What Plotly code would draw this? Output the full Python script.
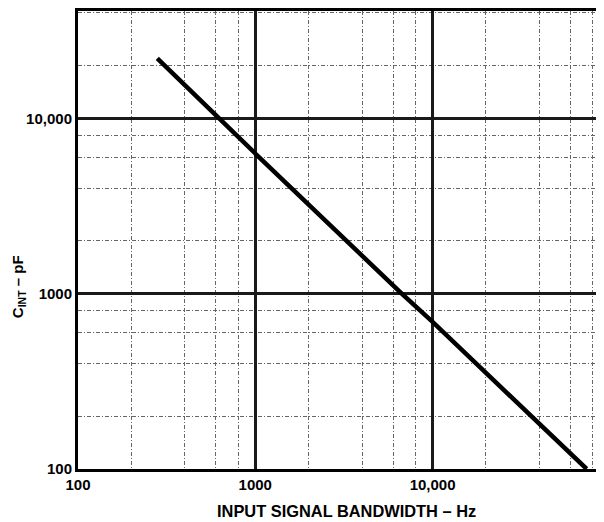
import plotly.graph_objects as go

# Integrating capacitor vs. input signal bandwidth
bandwidth_hz = [280, 1000, 6700, 10000, 74000]
cint_pf = [22000, 6300, 1000, 690, 100]

# Axis ticks
x_major = [100, 1000, 10000]
x_major_text = ["100", "1000", "10,000"]
x_minor = [200, 400, 600, 800, 2000, 4000, 6000, 8000, 20000, 40000, 60000, 80000]
y_major = [100, 1000, 10000]
y_major_text = ["100", "1000", "10,000"]
y_minor = [200, 400, 600, 800, 2000, 4000, 6000, 8000, 20000, 40000]

FONT = "Liberation Sans"

fig = go.Figure()

fig.add_trace(go.Scatter(
    x=bandwidth_hz,
    y=cint_pf,
    mode="lines",
    line=dict(color="black", width=4.5),
    showlegend=False,
    hoverinfo="skip"
))

grid_minor = dict(
    tickmode="array",
    showgrid=True,
    gridcolor="#666666",
    gridwidth=1,
    griddash="4px,2px,1px,2px",
    ticks=""
)

# page body has an 8px margin, so the figure is a bit smaller than the window
fig.update_layout(
    width=596,
    height=514,
    margin=dict(l=70, r=0, t=0, b=53),
    paper_bgcolor="white",
    plot_bgcolor="white",
    font=dict(family=FONT, color="black", size=14),
    xaxis=dict(
        type="log",
        range=[2, 4.967],
        tickmode="array",
        tickvals=x_major,
        ticktext=x_major_text,
        tickfont=dict(family=FONT, size=15, weight="bold"),
        ticks="",
        showgrid=True,
        gridcolor="#1a1a1a",
        gridwidth=2.5,
        minor=dict(grid_minor, tickvals=x_minor),
        showline=True,
        linecolor="black",
        linewidth=3,
        mirror=True,
        zeroline=False
    ),
    yaxis=dict(
        type="log",
        range=[2, 4.612],
        tickmode="array",
        tickvals=y_major,
        ticktext=y_major_text,
        tickfont=dict(family=FONT, size=15, weight="bold"),
        ticks="",
        showgrid=True,
        gridcolor="#1a1a1a",
        gridwidth=2.5,
        minor=dict(grid_minor, tickvals=y_minor),
        showline=True,
        linecolor="black",
        linewidth=3,
        mirror=False,
        zeroline=False
    ),
    annotations=[
        dict(
            text="<b>INPUT SIGNAL BANDWIDTH – Hz</b>",
            xref="paper", yref="paper",
            x=0.511, y=-0.091,
            xanchor="center", yanchor="middle",
            showarrow=False,
            font=dict(family=FONT, size=16.4)
        ),
        dict(
            text="<b>C<sub>INT</sub> – pF</b>",
            xref="paper", yref="paper",
            x=-0.114, y=0.397,
            xanchor="center", yanchor="middle",
            textangle=-90,
            showarrow=False,
            font=dict(family=FONT, size=15)
        )
    ]
)

fig.write_html("out.html")
